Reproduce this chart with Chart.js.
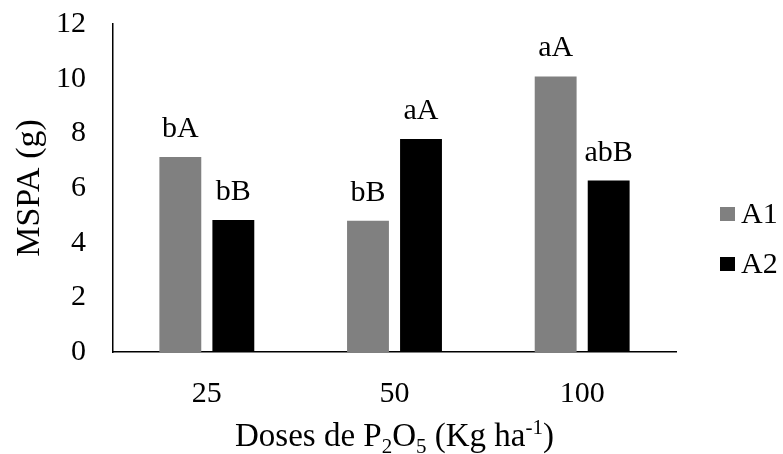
<!DOCTYPE html>
<html>
<head>
<meta charset="utf-8">
<script src="https://cdn.jsdelivr.net/npm/chart.js@4"></script>
<style>
  body { margin: 0; background: #fff; }
  #wrap { width: 783px; height: 454px; }
</style>
</head>
<body>
<div id="wrap"><canvas id="mspa-chart"></canvas></div>
<script>
// data
const doses = ['25', '50', '100'];
const a1Values = [7.13, 4.8, 10.08];
const a2Values = [4.83, 7.79, 6.27];
const a1Letters = ['bA', 'bB', 'aA'];
const a2Letters = ['bB', 'aA', 'abB'];
const yMin = 0, yMax = 12, yStep = 2;
const seriesNames = ['A1', 'A2'];
const seriesColors = ['#808080', '#000000'];

const serif = "'Liberation Serif', 'Times New Roman', serif";
const fontSize = 30;
const titleSize = 33;

// letters above each bar
const letterPlugin = {
  id: 'letters',
  afterDatasetsDraw(chart) {
    const ctx = chart.ctx;
    const letters = [a1Letters, a2Letters];
    ctx.save();
    ctx.font = fontSize + 'px ' + serif;
    ctx.fillStyle = '#000';
    ctx.textAlign = 'center';
    ctx.textBaseline = 'alphabetic';
    chart.data.datasets.forEach((ds, i) => {
      chart.getDatasetMeta(i).data.forEach((bar, j) => {
        ctx.fillText(letters[i][j], bar.x, bar.y - 20);
      });
    });
    ctx.restore();
  }
};

// x title with sub/superscripts, and the legend on the right
const extrasPlugin = {
  id: 'extras',
  afterDraw(chart) {
    const ctx = chart.ctx;
    const area = chart.chartArea;
    ctx.save();
    ctx.fillStyle = '#000';
    ctx.textBaseline = 'alphabetic';
    const big = titleSize + 'px ' + serif;
    const small = Math.round(titleSize * 0.65) + 'px ' + serif;
    const parts = [
      ['Doses de P', big, 0],
      ['2', small, 7],
      ['O', big, 0],
      ['5', small, 7],
      [' (Kg ha', big, 0],
      ['-1', small, -12],
      [')', big, 0]
    ];
    let total = 0;
    parts.forEach(p => { ctx.font = p[1]; total += ctx.measureText(p[0]).width; });
    let x = (area.left + area.right) / 2 - total / 2;
    const baseY = 446;
    ctx.textAlign = 'left';
    parts.forEach(p => {
      ctx.font = p[1];
      ctx.fillText(p[0], x, baseY + p[2]);
      x += ctx.measureText(p[0]).width;
    });

    // legend
    const lx = area.right + 44;
    const midY = area.bottom - 113;
    ctx.font = fontSize + 'px ' + serif;
    ctx.textBaseline = 'middle';
    seriesNames.forEach((name, i) => {
      const cy = midY + (i - 0.5) * 50;
      ctx.fillStyle = seriesColors[i];
      ctx.fillRect(lx, cy - 7, 15, 14);
      ctx.fillStyle = '#000';
      ctx.fillText(name, lx + 21, cy + 1);
    });
    ctx.restore();
  }
};

new Chart(document.getElementById('mspa-chart'), {
  type: 'bar',
  data: {
    labels: doses,
    datasets: [{
      label: seriesNames[0],
      data: a1Values,
      backgroundColor: seriesColors[0],
      categoryPercentage: 0.565,
      barPercentage: 0.79
    }, {
      label: seriesNames[1],
      data: a2Values,
      backgroundColor: seriesColors[1],
      categoryPercentage: 0.565,
      barPercentage: 0.79
    }]
  },
  options: {
    responsive: true,
    maintainAspectRatio: false,
    animation: false,
    layout: {
      padding: { top: 24, right: 107, bottom: 0, left: 0 }
    },
    plugins: {
      legend: { display: false },
      tooltip: { enabled: false }
    },
    scales: {
      x: {
        grid: { display: false, drawTicks: false },
        border: { display: true, color: '#000', width: 1.5 },
        ticks: {
          color: '#000',
          padding: 24,
          font: { family: serif, size: fontSize }
        },
        afterFit: s => { s.height = 102; }
      },
      y: {
        min: yMin,
        max: yMax,
        grid: { display: false, drawTicks: false },
        border: { display: true, color: '#000', width: 1.5 },
        ticks: {
          stepSize: yStep,
          color: '#000',
          padding: 27,
          font: { family: serif, size: fontSize }
        },
        title: {
          display: true,
          text: 'MSPA (g)',
          color: '#000',
          padding: { top: 10, bottom: 0 },
          font: { family: serif, size: 34 }
        },
        afterFit: s => {
          s.width = 113;
          s.paddingTop = 0;
          s.paddingBottom = 0;
        }
      }
    }
  },
  plugins: [letterPlugin, extrasPlugin]
});
</script>
</body>
</html>
